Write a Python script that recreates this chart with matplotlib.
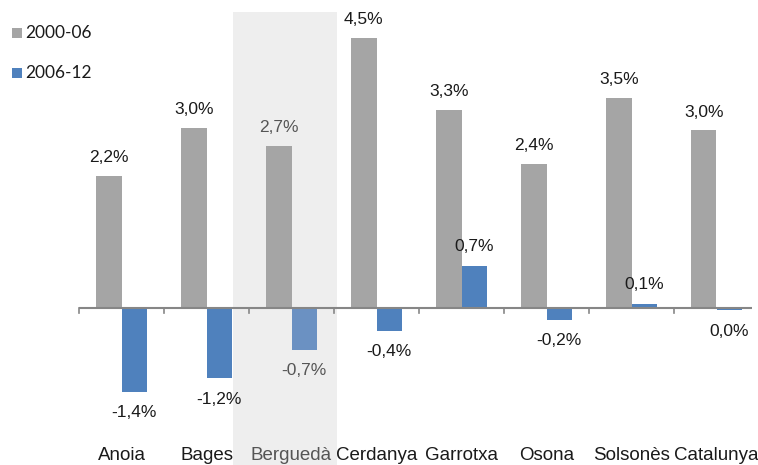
import matplotlib
matplotlib.use("Agg")
import matplotlib.pyplot as plt
import matplotlib.patches as mpatches
import matplotlib.transforms as mtransforms
import numpy as np

# data
comarques = ["Anoia", "Bages", "Berguedà", "Cerdanya", "Garrotxa", "Osona", "Solsonès", "Catalunya"]
creix_2000_06 = [2.2, 3.0, 2.7, 4.5, 3.3, 2.4, 3.5, 2.96]
creix_2006_12 = [-1.4, -1.17, -0.7, -0.38, 0.7, -0.2, 0.07, -0.04]
series_labels = ["2000-06", "2006-12"]
highlight = "Berguedà"

W, H = 758, 465
fig = plt.figure(figsize=(W / 100, H / 100), dpi=100)

# axes placed in pixel terms: zero line at y=308, 60 px per 1 %
ax_left, ax_right, ax_top, ax_bottom = 79, 752, 12, 440
ax = fig.add_axes([ax_left / W, (H - ax_bottom) / H,
                   (ax_right - ax_left) / W, (ax_bottom - ax_top) / H])
ax.set_ylim(-(ax_bottom - 308) / 60, (308 - ax_top) / 60)
ax.set_xlim(-0.5, -0.5 + (ax_right - ax_left) / 85)
ax.axis("off")

grey = "#A5A5A5"
blue = "#4F81BD"
blue_light = "#6B91C2"
txt = "#1a1a1a"
txt_light = "#555555"

x = np.arange(len(comarques))
w = 0.3
hi = comarques.index(highlight)

# highlight band behind Berguedà
trans = mtransforms.blended_transform_factory(ax.transData, fig.transFigure)
band = mpatches.Rectangle((hi - 0.69, 0), 1.225, (H - 12) / H, transform=trans,
                          facecolor="#EEEEEE", edgecolor="none", zorder=0, clip_on=False)
ax.add_patch(band)

blue_cols = [blue_light if c == highlight else blue for c in comarques]
ax.bar(x - w / 2, creix_2000_06, w, color=grey, zorder=2)
ax.bar(x + w / 2, creix_2006_12, w, color=blue_cols, zorder=2)

# zero axis and tick marks at category boundaries
ax.axhline(0, color="#868686", lw=1.5, zorder=3)
for b in np.arange(-0.5, len(comarques) - 0.4, 1):
    ax.plot([b, b], [0, -0.09], color="#868686", lw=1.2, zorder=3, clip_on=False)

def fmt(v):
    s = f"{v:.1f}".replace(".", ",")
    if s == "-0,0":
        s = "0,0"
    return s + "%"

for i, (a, b) in enumerate(zip(creix_2000_06, creix_2006_12)):
    col = txt_light if comarques[i] == highlight else txt
    ax.annotate(fmt(a), (x[i] - w / 2, a), xytext=(0, 13), textcoords="offset points",
                ha="center", va="center", fontsize=12.5, color=col, family="Liberation Sans")
    off = 14 if b >= 0.05 else -15
    ax.annotate(fmt(b), (x[i] + w / 2, min(b, 0) if off < 0 else b), xytext=(0, off),
                textcoords="offset points", ha="center", va="center", fontsize=12.5,
                color=col, family="Liberation Sans")
    ax.text(x[i], (H - 455) / H, comarques[i], transform=trans, ha="center", va="center",
            fontsize=13.5, color=col, family="Liberation Sans")

# legend drawn by hand, top-left
for j, (lab, c) in enumerate(zip(series_labels, [grey, blue])):
    yc = 33 + j * 40
    fig.patches.append(mpatches.Rectangle((12 / W, (H - yc - 5) / H), 10 / W, 10 / H,
                                          transform=fig.transFigure, facecolor=c,
                                          edgecolor="none"))
    fig.text(25 / W, (H - yc) / H, lab, ha="left", va="center", fontsize=12.5,
             color=txt, family=["Lato", "Liberation Sans"])

fig.savefig("out.png", dpi=100)
